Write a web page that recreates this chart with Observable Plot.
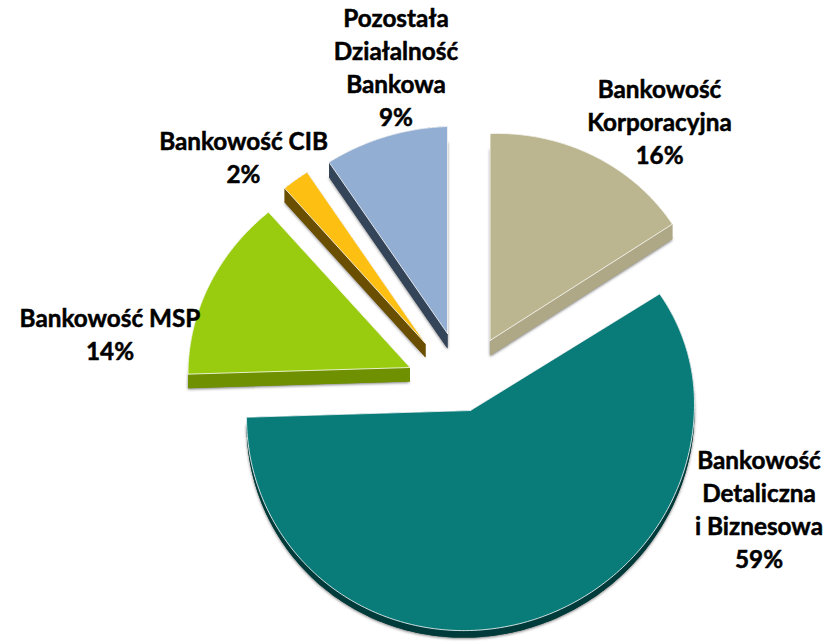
<!DOCTYPE html>
<html>
<head>
<meta charset="utf-8">
<script src="https://cdn.jsdelivr.net/npm/d3@7"></script>
<script src="https://cdn.jsdelivr.net/npm/@observablehq/plot@0.6"></script>
<style>
html,body{margin:0;padding:0;background:#fff}
svg{display:block}
</style>
</head>
<body>
<div id="chart"></div>
<script>
// Data, in the pie's own order (clockwise from 12 o'clock)
const categories = ["Bankowość\nKorporacyjna", "Bankowość\nDetaliczna\ni Biznesowa", "Bankowość MSP", "Bankowość CIB", "Pozostała\nDziałalność\nBankowa"];
const shares = [16, 59, 14, 2, 9];

// Look of each slice
const topColors = ["#bcb690", "#097c7a", "#99cc0e", "#fdbf12", "#93aed3"];
const sideColors = ["#aea886", "#003b3b", "#6f9000", "#6b4f00", "#344459"];

// Layout of the exploded, tilted pie
const apexX = [489.5, 470, 409.5, 425, 447];
const apexY = [340, 410, 367, 343, 333];
const depths = [15, 7, 14, 14, 15];
const radiiX = [216, 224, 222, 221, 221];
const labelX = [659, 758.5, 109.5, 243, 395.5];
const labelY = [120, 507, 332, 155, 65];
const radiusUp = 207, radiusDown = 220, shear = -0.03;

const total = d3.sum(shares);
const ends = d3.cumsum(shares).map(v => v / total * 360);
const starts = ends.map((_, i) => i ? ends[i - 1] : 0);

function rim(i, deg, shift = 0) {
  const a = deg * Math.PI / 180, s = Math.sin(a), c = Math.cos(a);
  const ry = c > 0 ? radiusUp : radiusDown;
  return {x: apexX[i] + radiiX[i] * s, y: apexY[i] - ry * c + shear * radiiX[i] * s + shift};
}
function arcPoints(i, shift = 0) {
  const pts = [];
  const n = Math.ceil(ends[i] - starts[i]);
  for (let k = 0; k <= n; ++k) pts.push(rim(i, starts[i] + (ends[i] - starts[i]) * k / n, shift));
  return pts;
}
function wedge(i, shift = 0) {
  const apex = {x: apexX[i], y: apexY[i] + shift};
  return [apex, ...arcPoints(i, shift), apex];
}
function strip(top, bottom) {
  return [...top, ...bottom.slice().reverse(), top[0]];
}

const marks = [];
shares.forEach((_, i) => {
  const d = depths[i];
  const fill = sideColors[i];
  const lower = wedge(i, d);
  // shadow-casting underside
  marks.push(Plot.line(lower, {x: "x", y: "y", fill, stroke: "none", imageFilter: "drop-shadow(0px 1px 1.6px rgba(0,0,0,0.55))"}));
  // side faces joining the top to the underside
  marks.push(Plot.line(strip(arcPoints(i), arcPoints(i, d)), {x: "x", y: "y", fill, stroke: "none"}));
  const up = wedge(i), low = wedge(i, d);
  marks.push(Plot.line(strip(up.slice(0, 2), low.slice(0, 2)), {x: "x", y: "y", fill, stroke: "none"}));
  marks.push(Plot.line(strip(up.slice(-2), low.slice(-2)), {x: "x", y: "y", fill, stroke: "none"}));
});
shares.forEach((_, i) => {
  marks.push(Plot.line(wedge(i), {x: "x", y: "y", fill: topColors[i], stroke: "#fff", strokeOpacity: 0.8, strokeWidth: 1}));
});
const labels = categories.map((c, i) => ({text: `${c}\n${shares[i]}%`, x: labelX[i], y: labelY[i]}));
marks.push(Plot.text(labels, {
  x: "x", y: "y", text: "text", fill: "#000", stroke: "#000", strokeWidth: 0.5,
  fontFamily: "Lato", fontWeight: 700, fontSize: 24.3, lineHeight: 1.358, textAnchor: "middle"
}));

const chart = Plot.plot({
  width: 835, height: 641,
  margin: 0,
  x: {domain: [0, 835], axis: null},
  y: {domain: [641, 0], axis: null},
  style: {background: "#fff", overflow: "visible"},
  marks
});
document.getElementById("chart").append(chart);
</script>
</body>
</html>
